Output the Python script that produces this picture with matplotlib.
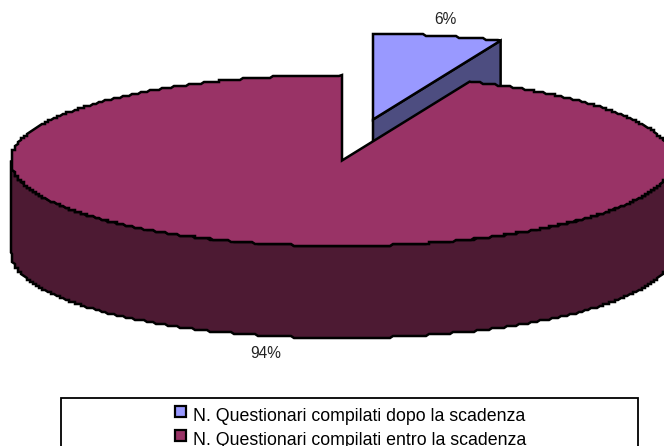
import numpy as np
import matplotlib
matplotlib.use("Agg")
import matplotlib.pyplot as plt
from matplotlib.patches import Rectangle

labels = ["N. Questionari compilati dopo la scadenza", "N. Questionari compilati entro la scadenza"]
values = [6.3, 93.7]
pct_labels = ["6%", "94%"]
top_colors = ["#9999FF", "#993366"]
side_colors = ["#4D4D80", "#4D1A33"]

plt.rcParams["font.family"] = ["Liberation Sans", "DejaVu Sans"]

W, H = 664, 446
fig = plt.figure(figsize=(W / 100, H / 100), dpi=100)
ax = fig.add_axes([0, 0, 1, 1])
ax.set_xlim(0, W)
ax.set_ylim(H, 0)
ax.axis("off")

cx, cy = 342, 160.5
rx, ry = 331, 85.5
depth = 92
edge = {"edgecolor": "black", "linewidth": 1.8, "joinstyle": "miter"}


def rim(a0, a1, ox=0, oy=0):
    # angle in degrees clockwise from 12 o'clock, snapped to a coarse grid for the stepped edge
    t = np.radians(np.linspace(a0, a1, max(int(abs(a1 - a0)) * 2, 2)))
    x = cx + ox + rx * np.sin(t)
    y = cy + oy - ry * np.cos(t)
    x[1:-1] = np.round(x[1:-1] / 3) * 3
    y[1:-1] = np.round(y[1:-1] / 2) * 2
    return x, y


a_small = values[0] / sum(values) * 360

# small slice, pulled out up and right, sits behind the big one
ox, oy = 31, -41
xr, yr = rim(0, a_small, ox, oy)
ax.fill([cx + ox, xr[-1], xr[-1], cx + ox], [cy + oy, yr[-1], yr[-1] + depth, cy + oy + depth],
        facecolor=side_colors[0], zorder=1, **edge)
ax.fill(np.r_[cx + ox, xr], np.r_[cy + oy, yr], facecolor=top_colors[0], zorder=2, **edge)

# big slice: front wall then top
xf, yf = rim(90, 270)
ax.fill(np.r_[xf, xf[::-1]], np.r_[yf, yf[::-1] + depth], facecolor=side_colors[1], zorder=3, **edge)
xb, yb = rim(a_small, 360)
ax.fill(np.r_[cx, xb], np.r_[cy, yb], facecolor=top_colors[1], zorder=4, **edge)

ax.text(445, 19, pct_labels[0], fontsize=11.2, color="#222222", ha="center", va="center", zorder=6)
ax.text(266, 354, pct_labels[1], fontsize=11.2, color="#222222", ha="center", va="center", zorder=6)

# legend box runs off the bottom of the picture
ax.add_patch(Rectangle((61, 398), 577, 70, facecolor="white", edgecolor="black", linewidth=1.3, zorder=5))
for i in range(len(labels)):
    y0 = 406 + i * 24
    ax.add_patch(Rectangle((175, y0), 11, 11, facecolor=top_colors[i], edgecolor="black", linewidth=1.6, zorder=6))
    ax.text(193, y0 + 15, labels[i], fontsize=12.8, color="black", ha="left", va="baseline", zorder=6)

fig.savefig("out.png", dpi=100)
